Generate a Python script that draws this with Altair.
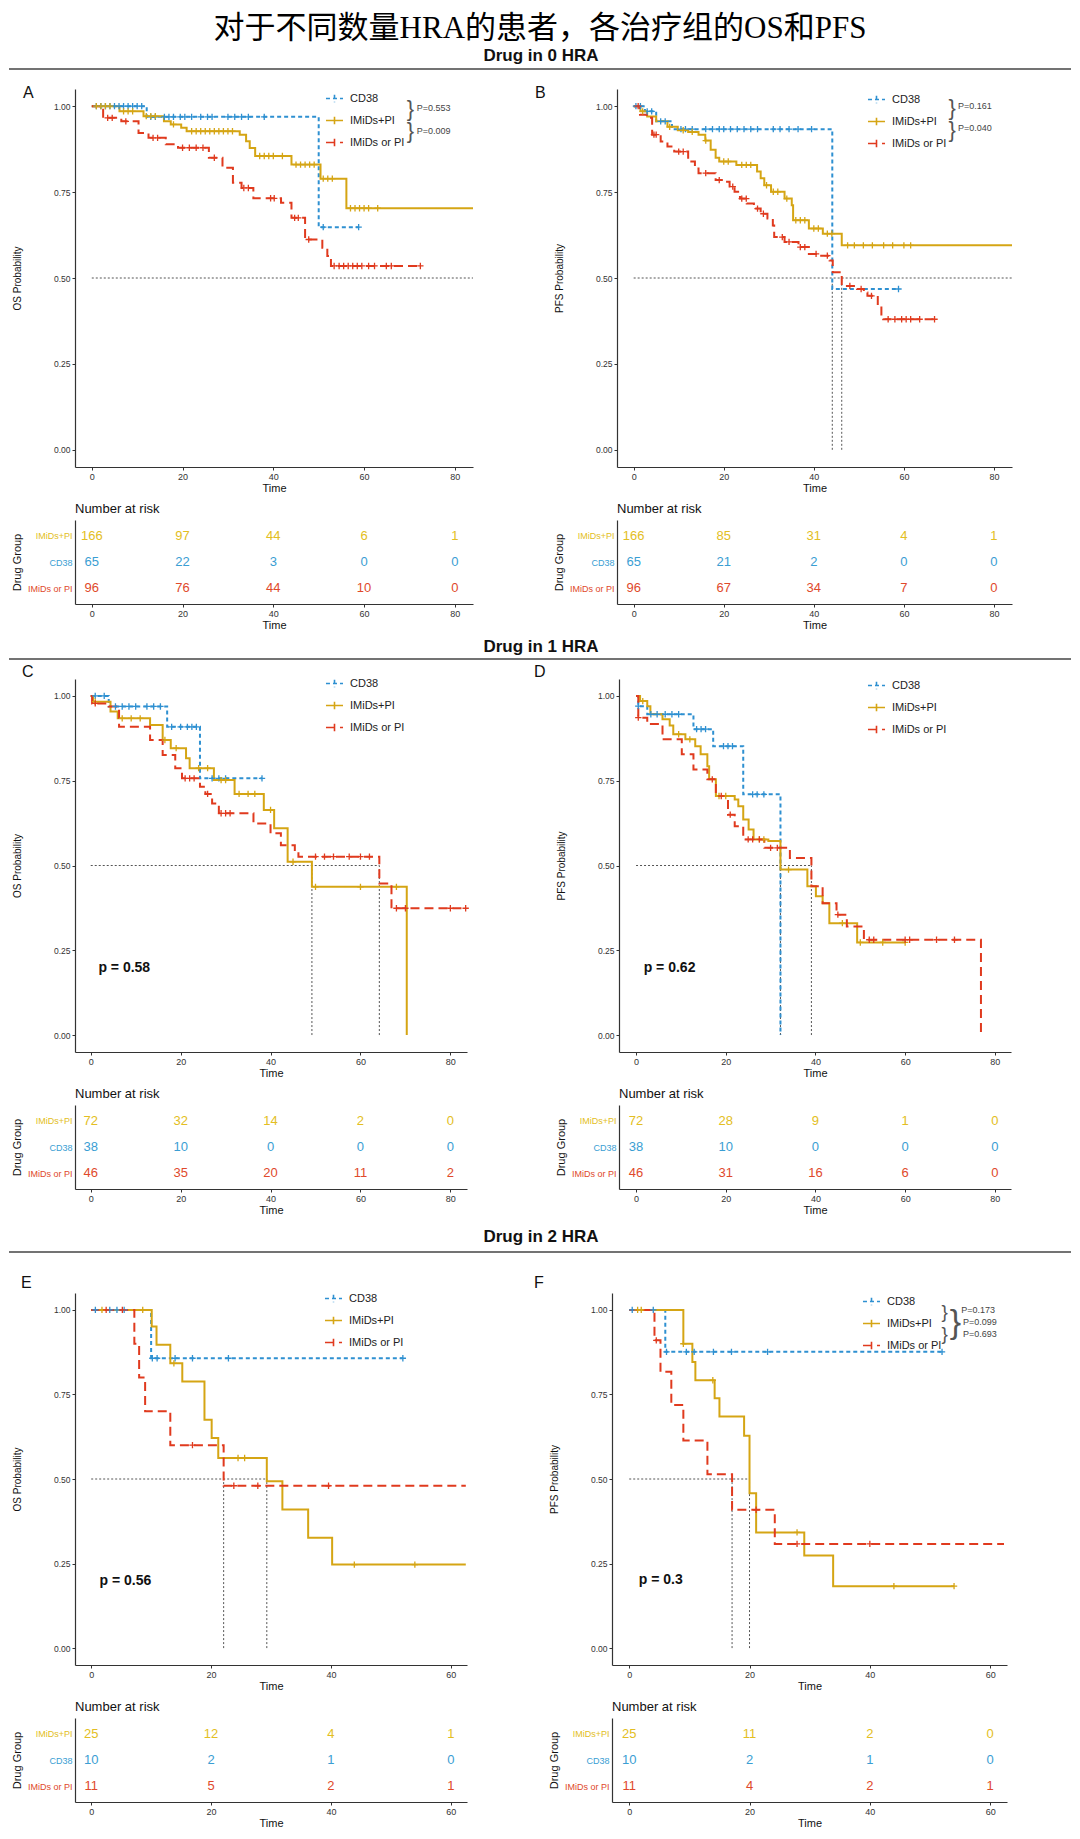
import altair as alt
import pandas as pd

TITLE = "对于不同数量HRA的患者，各治疗组的OS和PFS"
HEADERS = ["Drug in 0 HRA", "Drug in 1 HRA", "Drug in 2 HRA"]
GROUPS = ["CD38", "IMiDs+PI", "IMiDs or PI"]
TABLE_ORDER = ["IMiDs+PI", "CD38", "IMiDs or PI"]
LINE_COLORS = ["#2E90D1", "#D5A514", "#E03A1E"]
TABLE_COLORS = ["#3A9ED3", "#E3BE22", "#E0492B"]
DASHES = [[4, 3], [1, 0], [9, 5]]
Y_TICKS = [0, 0.25, 0.5, 0.75, 1.0]
X_TICKS_80 = [0, 20, 40, 60, 80]
X_TICKS_60 = [0, 20, 40, 60]

# ---------------- Panel A : OS, 0 HRA ----------------
A_CD38_T = [0, 12.1, 50.0, 58.8]
A_CD38_S = [1.0, 0.969, 0.648, 0.648]
A_CD38_C = [1, 2, 3, 4, 5, 6, 7, 8, 9, 10, 11, 13, 14, 16, 17, 18, 19.5, 20.5, 22, 24,
            25.5, 26.5, 30, 31.5, 33, 34.5, 38, 51, 58.8]
A_IP_T = [0, 6.1, 11.4, 15.9, 17.4, 19.7, 20.9, 32.6, 34, 34.8, 36, 44, 50.4, 56.1, 84]
A_IP_S = [1.0, 0.985, 0.971, 0.956, 0.947, 0.937, 0.927, 0.917, 0.898, 0.878, 0.855,
          0.830, 0.789, 0.703, 0.703]
A_IP_C = [1, 2, 3, 4, 7, 8, 9, 12, 13, 14, 18, 22, 23, 24, 25, 26, 27, 28, 29, 30, 31,
          37, 38, 39, 40, 42, 45, 46, 47, 48, 49, 51, 52, 53, 57, 58, 59, 60, 61, 63]
A_IOP_T = [0, 2.5, 6.5, 10.3, 12.5, 16.3, 19, 25.8, 28.8, 31.1, 33, 35.6, 41.7, 44, 47,
           50.8, 51.9, 52.7, 72.4]
A_IOP_S = [1.0, 0.966, 0.956, 0.922, 0.908, 0.889, 0.879, 0.850, 0.821, 0.777, 0.762,
           0.732, 0.719, 0.675, 0.612, 0.588, 0.564, 0.535, 0.535]
A_IOP_C = [3.5, 4.5, 7.5, 13.5, 14.5, 20, 21.5, 23, 24.5, 27, 33.5, 34.5, 39.4, 40.2,
           44.7, 45.5, 47.8, 53.4, 54.5, 55.5, 56.5, 57.5, 58.5, 59.5, 61, 62.3, 64.9,
           66, 72.4]
A_RISK_T = [0, 20, 40, 60, 80]
A_RISK_CD38 = [65, 22, 3, 0, 0]
A_RISK_IP = [166, 97, 44, 6, 1]
A_RISK_IOP = [96, 76, 44, 10, 0]
A_MEDIANS = []
A_HLINE_END = 84
A_PVAL_TEXT = ["P=0.553", "P=0.009"]
A_PVAL_T = [71.6, 71.6]
A_PVAL_S = [0.994, 0.927]
A_BRACE_T = [69.4, 69.4]
A_BRACE_S = [0.991, 0.927]
A_BRACE_SIZE = [22, 22]

# ---------------- Panel B : PFS, 0 HRA ----------------
B_CD38_T = [0, 2.5, 5, 8.5, 44.1, 58.8]
B_CD38_S = [1.0, 0.985, 0.956, 0.933, 0.468, 0.468]
B_CD38_C = [0.5, 1.5, 3, 4, 6, 7, 10.5, 11.5, 13, 16, 17.5, 19, 20, 21.5, 23, 24.5, 26,
            27.5, 31, 32.5, 34.5, 36.5, 39.5, 58.8]
B_IP_T = [0, 1.5, 3, 5, 7.5, 9.8, 12.1, 14.4, 15.9, 17.1, 18.2, 19, 22.8, 27.4, 28.2,
          29, 30.5, 33.5, 35.1, 35.4, 38.9, 42, 46.2, 84]
B_IP_S = [1.0, 0.985, 0.97, 0.956, 0.94, 0.93, 0.925, 0.917, 0.9, 0.873, 0.85, 0.839,
          0.829, 0.81, 0.79, 0.77, 0.751, 0.731, 0.712, 0.668, 0.644, 0.629, 0.595, 0.595]
B_IP_C = [2, 8, 11, 13, 16, 20, 21, 24, 25, 26, 29.5, 31, 32, 34, 36, 37, 38, 40, 41,
          43, 44, 47.5, 49, 51, 53, 55.5, 57.5, 60, 61.5]
B_IOP_T = [0, 1.4, 2.9, 4.1, 6, 7.5, 9, 12.1, 13.6, 14.4, 18.2, 19.8, 21.3, 22.4, 23.6,
           25.1, 26.7, 28.2, 29.7, 30.9, 31.2, 33.5, 36.6, 38.9, 41.2, 43.5, 44.2, 46.2,
           49.6, 51.1, 51.9, 54.2, 55, 55.4, 66.8]
B_IOP_S = [1.0, 0.975, 0.966, 0.917, 0.897, 0.883, 0.868, 0.839, 0.819, 0.805, 0.785,
           0.78, 0.766, 0.751, 0.731, 0.717, 0.702, 0.687, 0.673, 0.653, 0.619, 0.605,
           0.59, 0.57, 0.565, 0.551, 0.517, 0.477, 0.468, 0.458, 0.448, 0.419, 0.39,
           0.38, 0.38]
B_IOP_C = [1, 4.5, 5, 10, 11, 16, 19, 22, 24, 25, 27.5, 28.8, 33, 34.5, 37, 38, 40.5,
           43, 48, 50.5, 52.8, 56.5, 58, 59.5, 60.5, 61.5, 63.5, 66.8]
B_RISK_T = [0, 20, 40, 60, 80]
B_RISK_CD38 = [65, 21, 2, 0, 0]
B_RISK_IP = [166, 85, 31, 4, 1]
B_RISK_IOP = [96, 67, 34, 7, 0]
B_MEDIANS = [44.1, 46.2]
B_HLINE_END = 84
B_PVAL_TEXT = ["P=0.161", "P=0.040"]
B_PVAL_T = [72, 72]
B_PVAL_S = [1.0, 0.936]
B_BRACE_T = [69.9, 69.9]
B_BRACE_S = [0.995, 0.93]
B_BRACE_SIZE = [22, 22]

# ---------------- Panel C : OS, 1 HRA ----------------
C_CD38_T = [0, 4, 17, 24.3, 38.1]
C_CD38_S = [1.0, 0.969, 0.909, 0.757, 0.757]
C_CD38_C = [1, 3, 5.5, 7, 8.5, 10, 12.5, 14, 15.5, 18, 20, 21.5, 22.5, 23.5, 27, 28.5,
            30, 38.1]
C_IP_T = [0, 0.5, 4.4, 6, 13.2, 16, 17.8, 21.2, 22, 27.4, 32, 38.5, 40.8, 43.8, 49.2, 70.3]
C_IP_S = [1.0, 0.983, 0.954, 0.934, 0.914, 0.870, 0.846, 0.816, 0.787, 0.752, 0.711,
          0.664, 0.610, 0.511, 0.437, 0.0]
C_IP_C = [1, 7, 9, 11, 16.5, 19, 24, 26, 29, 30, 33, 35, 36.5, 40, 45, 50, 60, 68]
C_IOP_T = [0, 0.3, 4, 6.3, 13.2, 16, 18.8, 20.3, 24.3, 25.5, 27, 28.5, 36.2, 40, 42.3,
           45.4, 46.2, 64.2, 66.9, 83.4]
C_IOP_S = [1.0, 0.978, 0.969, 0.909, 0.870, 0.826, 0.787, 0.757, 0.732, 0.711, 0.683,
           0.654, 0.624, 0.595, 0.560, 0.546, 0.526, 0.447, 0.374, 0.374]
C_IOP_C = [1, 21, 22, 23, 26, 29, 30, 31, 50, 52, 54, 57.5, 60, 62, 68, 70, 80, 83.4]
C_RISK_T = [0, 20, 40, 60, 80]
C_RISK_CD38 = [38, 10, 0, 0, 0]
C_RISK_IP = [72, 32, 14, 2, 0]
C_RISK_IOP = [46, 35, 20, 11, 2]
C_MEDIANS = [49.2, 64.2]
C_HLINE_END = 64.2
C_PLABEL = "p = 0.58"
C_PLABEL_T = 1.7
C_PLABEL_S = 0.197

# ---------------- Panel D : PFS, 1 HRA ----------------
D_CD38_T = [0, 0.5, 2.5, 12.8, 17.2, 23.9, 32.2]
D_CD38_S = [1.0, 0.97, 0.946, 0.902, 0.852, 0.710, 0.0]
D_CD38_C = [0.5, 3.3, 4.7, 6.5, 8, 9.5, 13.5, 14.5, 15.5, 19.5, 20.5, 21.5, 26, 27, 28.5]
D_IP_T = [0, 0.9, 2.5, 3.2, 5.9, 7.5, 8.3, 11, 13.2, 14.4, 15.9, 16.3, 17.8, 22, 22.8,
          23.9, 25.1, 26.2, 29.5, 32.2, 38.2, 40.1, 41.6, 43.1, 49.3, 60]
D_IP_S = [1.0, 0.985, 0.97, 0.946, 0.931, 0.913, 0.887, 0.872, 0.852, 0.828, 0.793,
          0.754, 0.705, 0.695, 0.675, 0.636, 0.606, 0.577, 0.572, 0.488, 0.439, 0.409,
          0.389, 0.330, 0.273, 0.273]
D_IP_C = [1.5, 9.5, 12, 18.5, 20, 27.5, 28.5, 34, 46, 50, 55, 60]
D_IOP_T = [0, 0.5, 2.5, 5.9, 10.2, 12.8, 15.9, 17.8, 20.5, 22, 23.9, 28.6, 34.3, 39.1,
           41.6, 44.7, 47, 50.8, 76.9]
D_IOP_S = [1.0, 0.936, 0.917, 0.872, 0.828, 0.783, 0.754, 0.705, 0.650, 0.616, 0.577,
           0.552, 0.522, 0.439, 0.389, 0.355, 0.320, 0.281, 0.0]
D_IOP_C = [0.5, 17, 19, 21, 25, 26, 27.5, 30, 31.5, 45, 52, 53, 60, 61, 67, 71]
D_RISK_T = [0, 20, 40, 60, 80]
D_RISK_CD38 = [38, 10, 0, 0, 0]
D_RISK_IP = [72, 28, 9, 1, 0]
D_RISK_IOP = [46, 31, 16, 6, 0]
D_MEDIANS = [32.2, 39.1]
D_HLINE_END = 39.1
D_PLABEL = "p = 0.62"
D_PLABEL_T = 1.7
D_PLABEL_S = 0.197

# ---------------- Panel E : OS, 2 HRA ----------------
E_CD38_T = [0, 10, 52]
E_CD38_S = [1.0, 0.857, 0.857]
E_CD38_C = [0.7, 3.1, 4.3, 5.5, 10.2, 11, 14, 16.9, 22.9, 52]
E_IP_T = [0, 10.1, 10.9, 13.2, 15.2, 18.9, 20.1, 21.2, 29.3, 31.9, 36.2, 40.2, 62.5]
E_IP_S = [1.0, 0.951, 0.897, 0.842, 0.788, 0.675, 0.621, 0.562, 0.493, 0.410, 0.326,
          0.247, 0.247]
E_IP_C = [1.8, 8.6, 13.8, 24.5, 25.6, 43.9, 54]
E_IOP_T = [0, 7.2, 8, 9, 13.2, 22.1, 62.5]
E_IOP_S = [1.0, 0.9, 0.8, 0.7, 0.6, 0.48, 0.48]
E_IOP_C = [2.5, 5.2, 16.9, 23.8, 27.8, 39.6]
E_RISK_T = [0, 20, 40, 60]
E_RISK_CD38 = [10, 2, 1, 0]
E_RISK_IP = [25, 12, 4, 1]
E_RISK_IOP = [11, 5, 2, 1]
E_MEDIANS = [22.1, 29.3]
E_HLINE_END = 29.3
E_PLABEL = "p = 0.56"
E_PLABEL_T = 1.4
E_PLABEL_S = 0.198

# ---------------- Panel F : PFS, 2 HRA ----------------
F_CD38_T = [0, 6, 52]
F_CD38_S = [1.0, 0.876, 0.876]
F_CD38_C = [0.5, 4, 6.2, 9.5, 10.8, 14, 17, 23, 52]
F_IP_T = [0, 9, 10.5, 11, 14.2, 15, 19.1, 20, 21.1, 29.1, 33.9, 54]
F_IP_S = [1.0, 0.900, 0.846, 0.792, 0.739, 0.685, 0.628, 0.458, 0.342, 0.274, 0.183, 0.183]
F_IP_C = [1.4, 2, 9, 13.9, 27.9, 44, 54]
F_IOP_T = [0, 4.2, 5.2, 7, 9, 13, 17.1, 24.2, 62.3]
F_IOP_S = [1.0, 0.910, 0.817, 0.719, 0.614, 0.514, 0.409, 0.308, 0.308]
F_IOP_C = [4.5, 21.1, 27.9, 40]
F_RISK_T = [0, 20, 40, 60]
F_RISK_CD38 = [10, 2, 1, 0]
F_RISK_IP = [25, 11, 2, 0]
F_RISK_IOP = [11, 4, 2, 1]
F_MEDIANS = [17.1, 20]
F_HLINE_END = 20
F_PLABEL = "p = 0.3"
F_PLABEL_T = 1.6
F_PLABEL_S = 0.2
F_PVAL_TEXT = ["P=0.173", "P=0.099", "P=0.693"]
F_PVAL_T = [55.2, 55.5, 55.5]
F_PVAL_S = [1.0, 0.964, 0.928]
F_BRACE_T = [51.9, 51.9, 53.3]
F_BRACE_S = [0.994, 0.928, 0.961]
F_BRACE_SIZE = [19, 19, 34]

CROSS = "M-1,0L1,0M0,-1L0,1"
LEG_SYMBOL = "M-1,0L1,0M0,-0.45L0,0.45"

# layout: the section rules start this far left of the plot areas' left edge
HEADER_LEFT = 66
HEADER_WIDTH = 996


def surv_at(T, S, c):
    v = S[0]
    for t, s in zip(T, S):
        if t <= c:
            v = s
        else:
            break
    return v


def curve_frames(curves):
    lines, cens = [], []
    for g, (T, S, C) in zip(GROUPS, curves):
        for t, s in zip(T, S):
            lines.append({"group": g, "t": t, "s": s})
        for c in C:
            cens.append({"group": g, "t": c, "s": surv_at(T, S, c)})
    return pd.DataFrame(lines), pd.DataFrame(cens)


def km_chart(p):
    xs = alt.Scale(domain=p["xdom"], nice=False, zero=False)
    ys = alt.Scale(domain=[-0.05, 1.05], nice=False, zero=False)
    xax = alt.Axis(values=p["xticks"], title="Time", labelFontSize=9, titleFontSize=11,
                   tickSize=3, labelPadding=2, titlePadding=1, grid=False)
    yax = alt.Axis(values=Y_TICKS, format=".2f", title=p["ylab"], labelFontSize=8.5,
                   titleFontSize=10, tickSize=3, labelPadding=2, titlePadding=31, grid=False)
    X = alt.X("t:Q", scale=xs, axis=xax)
    Y = alt.Y("s:Q", scale=ys, axis=yax)
    leg = alt.Legend(title=None, orient="none", legendX=p["legx"], legendY=p["legy"],
                     symbolType=LEG_SYMBOL, symbolSize=290, symbolStrokeWidth=1.6,
                     labelFontSize=11, labelColor="#222", labelOffset=6, rowPadding=5)
    color = alt.Color("group:N", scale=alt.Scale(domain=GROUPS, range=LINE_COLORS), legend=leg)
    dash = alt.StrokeDash("group:N", scale=alt.Scale(domain=GROUPS, range=DASHES), legend=leg)
    lines_df, cens_df = curve_frames(p["curves"])

    layers = []
    hl = pd.DataFrame({"t": [0], "t2": [p["hend"]], "s": [0.5]})
    layers.append(alt.Chart(hl).mark_rule(color="#555", strokeDash=[2, 2], strokeWidth=1)
                  .encode(x=X, x2="t2:Q", y=Y))
    if p["medians"]:
        n = len(p["medians"])
        vl = pd.DataFrame({"t": p["medians"], "s": [0.0] * n, "s2": [0.5] * n})
        layers.append(alt.Chart(vl).mark_rule(color="#555", strokeDash=[2, 2], strokeWidth=1)
                      .encode(x=X, y=Y, y2="s2:Q"))
    layers.append(alt.Chart(lines_df).mark_line(interpolate="step-after", strokeWidth=2)
                  .encode(x=X, y=Y, color=color, strokeDash=dash))
    layers.append(alt.Chart(cens_df).mark_point(shape=CROSS, size=40, strokeWidth=1.3,
                                                filled=False, opacity=1)
                  .encode(x=X, y=Y, color=color))
    if p.get("plabel"):
        pl = pd.DataFrame({"t": [p["plabel_t"]], "s": [p["plabel_s"]], "label": [p["plabel"]]})
        layers.append(alt.Chart(pl).mark_text(align="left", baseline="middle", fontSize=14,
                                              fontWeight="bold", color="#111")
                      .encode(x=X, y=Y, text="label:N"))
    if p.get("pvals"):
        pv = pd.DataFrame({"t": p["pval_t"], "s": p["pval_s"], "label": p["pvals"]})
        layers.append(alt.Chart(pv).mark_text(align="left", baseline="middle", fontSize=9,
                                              color="#444")
                      .encode(x=X, y=Y, text="label:N"))
        br = pd.DataFrame({"t": p["brace_t"], "s": p["brace_s"], "size": p["brace_size"],
                           "label": ["}"] * len(p["brace_t"])})
        layers.append(alt.Chart(br).mark_text(align="left", baseline="middle", color="#555",
                                              fontWeight="normal")
                      .encode(x=X, y=Y, text="label:N",
                              size=alt.Size("size:Q", scale=None, legend=None)))
    lt = pd.DataFrame({"label": [p["letter"]]})
    layers.append(alt.Chart(lt).mark_text(align="left", baseline="middle", fontSize=16,
                                          color="#111")
                  .encode(x=alt.value(p["letter_dx"]), y=alt.value(p["letter_dy"]),
                          text="label:N"))
    return alt.layer(*layers).properties(width=p["w"], height=p["h"])


def risk_chart(p):
    rows = []
    for g, counts in zip(GROUPS, p["risk"]):
        for t, n in zip(p["risk_t"], counts):
            rows.append({"group": g, "t": t, "n": n})
    df = pd.DataFrame(rows)
    xs = alt.Scale(domain=p["xdom"], nice=False, zero=False)
    xax = alt.Axis(values=p["xticks"], title="Time", labelFontSize=9, titleFontSize=11,
                   tickSize=3, labelPadding=2, titlePadding=1, grid=False)
    lab_color = {"condition": [{"test": "datum.value === 'CD38'", "value": TABLE_COLORS[0]},
                               {"test": "datum.value === 'IMiDs+PI'", "value": TABLE_COLORS[1]}],
                 "value": TABLE_COLORS[2]}
    yax = alt.Axis(title="Drug Group", ticks=False, labelPadding=3, titlePadding=5,
                   labelFontSize=9, titleFontSize=11, labelColor=lab_color)
    return alt.Chart(df).mark_text(fontSize=13, baseline="middle").encode(
        x=alt.X("t:Q", scale=xs, axis=xax),
        y=alt.Y("group:N", sort=TABLE_ORDER, scale=alt.Scale(type="point", padding=0.6), axis=yax),
        text="n:Q",
        color=alt.Color("group:N", scale=alt.Scale(domain=GROUPS, range=TABLE_COLORS), legend=None),
    ).properties(width=p["w"], height=84,
                 title=alt.TitleParams("Number at risk", anchor="start", frame="group",
                                       fontSize=13, fontWeight="normal", offset=4, color="#111"))


def panel(p):
    return alt.vconcat(km_chart(p), risk_chart(p), spacing=10).resolve_scale(
        color="independent", strokeDash="independent")


def header(text, height, ty, ry):
    d = pd.DataFrame({"label": [text]})
    rule = alt.Chart(d).mark_rule(color="#444", strokeWidth=1.5).encode(
        x=alt.value(-HEADER_LEFT), x2=alt.value(HEADER_WIDTH), y=alt.value(ry))
    txt = alt.Chart(d).mark_text(fontSize=17, fontWeight="bold", color="#111",
                                 baseline="middle").encode(
        x=alt.value(532 - HEADER_LEFT), y=alt.value(ty), text="label:N")
    return alt.layer(rule, txt).properties(width=HEADER_WIDTH - 10, height=height)


P_A = dict(curves=[(A_CD38_T, A_CD38_S, A_CD38_C), (A_IP_T, A_IP_S, A_IP_C), (A_IOP_T, A_IOP_S, A_IOP_C)],
           risk=[A_RISK_CD38, A_RISK_IP, A_RISK_IOP], risk_t=A_RISK_T, xdom=[-3.7, 84], xticks=X_TICKS_80,
           w=398, h=378, ylab="OS Probability", letter="A", letter_dx=-52, letter_dy=4,
           legx=250, legy=0, medians=A_MEDIANS, hend=A_HLINE_END,
           pvals=A_PVAL_TEXT, pval_t=A_PVAL_T, pval_s=A_PVAL_S,
           brace_t=A_BRACE_T, brace_s=A_BRACE_S, brace_size=A_BRACE_SIZE)
P_B = dict(curves=[(B_CD38_T, B_CD38_S, B_CD38_C), (B_IP_T, B_IP_S, B_IP_C), (B_IOP_T, B_IOP_S, B_IOP_C)],
           risk=[B_RISK_CD38, B_RISK_IP, B_RISK_IOP], risk_t=B_RISK_T, xdom=[-3.7, 84], xticks=X_TICKS_80,
           w=395, h=378, ylab="PFS Probability", letter="B", letter_dx=-82, letter_dy=4,
           legx=250, legy=1, medians=B_MEDIANS, hend=B_HLINE_END,
           pvals=B_PVAL_TEXT, pval_t=B_PVAL_T, pval_s=B_PVAL_S,
           brace_t=B_BRACE_T, brace_s=B_BRACE_S, brace_size=B_BRACE_SIZE)
P_C = dict(curves=[(C_CD38_T, C_CD38_S, C_CD38_C), (C_IP_T, C_IP_S, C_IP_C), (C_IOP_T, C_IOP_S, C_IOP_C)],
           risk=[C_RISK_CD38, C_RISK_IP, C_RISK_IOP], risk_t=C_RISK_T, xdom=[-3.5, 83.7], xticks=X_TICKS_80,
           w=392, h=373, ylab="OS Probability", letter="C", letter_dx=-53, letter_dy=-7,
           legx=250, legy=-5, medians=C_MEDIANS, hend=C_HLINE_END,
           plabel=C_PLABEL, plabel_t=C_PLABEL_T, plabel_s=C_PLABEL_S)
P_D = dict(curves=[(D_CD38_T, D_CD38_S, D_CD38_C), (D_IP_T, D_IP_S, D_IP_C), (D_IOP_T, D_IOP_S, D_IOP_C)],
           risk=[D_RISK_CD38, D_RISK_IP, D_RISK_IOP], risk_t=D_RISK_T, xdom=[-3.8, 83.6], xticks=X_TICKS_80,
           w=392, h=373, ylab="PFS Probability", letter="D", letter_dx=-85, letter_dy=-7,
           legx=248, legy=-3, medians=D_MEDIANS, hend=D_HLINE_END,
           plabel=D_PLABEL, plabel_t=D_PLABEL_T, plabel_s=D_PLABEL_S)
P_E = dict(curves=[(E_CD38_T, E_CD38_S, E_CD38_C), (E_IP_T, E_IP_S, E_IP_C), (E_IOP_T, E_IOP_S, E_IOP_C)],
           risk=[E_RISK_CD38, E_RISK_IP, E_RISK_IOP], risk_t=E_RISK_T, xdom=[-2.7, 62.7], xticks=X_TICKS_60,
           w=392, h=372, ylab="OS Probability", letter="E", letter_dx=-54, letter_dy=-10,
           legx=249, legy=-4, medians=E_MEDIANS, hend=E_HLINE_END,
           plabel=E_PLABEL, plabel_t=E_PLABEL_T, plabel_s=E_PLABEL_S)
P_F = dict(curves=[(F_CD38_T, F_CD38_S, F_CD38_C), (F_IP_T, F_IP_S, F_IP_C), (F_IOP_T, F_IOP_S, F_IOP_C)],
           risk=[F_RISK_CD38, F_RISK_IP, F_RISK_IOP], risk_t=F_RISK_T, xdom=[-2.86, 62.8], xticks=X_TICKS_60,
           w=395, h=372, ylab="PFS Probability", letter="F", letter_dx=-78, letter_dy=-10,
           legx=250, legy=-1, medians=F_MEDIANS, hend=F_HLINE_END,
           plabel=F_PLABEL, plabel_t=F_PLABEL_T, plabel_s=F_PLABEL_S,
           pvals=F_PVAL_TEXT, pval_t=F_PVAL_T, pval_s=F_PVAL_S,
           brace_t=F_BRACE_T, brace_s=F_BRACE_S, brace_size=F_BRACE_SIZE)


def row(p1, p2, spacing):
    return alt.hconcat(panel(p1), panel(p2), spacing=spacing).resolve_scale(
        color="independent", strokeDash="independent")


chart = alt.vconcat(
    header(HEADERS[0], 39, 10, 23),
    row(P_A, P_B, 58),
    header(HEADERS[1], 34, 17, 29),
    row(P_C, P_D, 62),
    header(HEADERS[2], 60, 22, 37),
    row(P_E, P_F, 64),
    spacing=0,
    title=alt.TitleParams(TITLE, font="Liberation Serif, Noto Sans CJK SC", fontSize=31,
                          fontWeight="normal", anchor="middle", offset=1, color="#000"),
).resolve_scale(color="independent", strokeDash="independent").properties(
    padding={"left": 0, "top": 5, "right": 0, "bottom": 0}
).configure(font="Liberation Sans").configure_view(stroke=None).configure_axis(
    domainColor="#333", tickColor="#333", labelColor="#333", titleColor="#111",
    titleFontWeight="normal", domainWidth=1.2, tickWidth=1)

chart.save("out.html", embed_options={"renderer": "svg", "actions": False})
